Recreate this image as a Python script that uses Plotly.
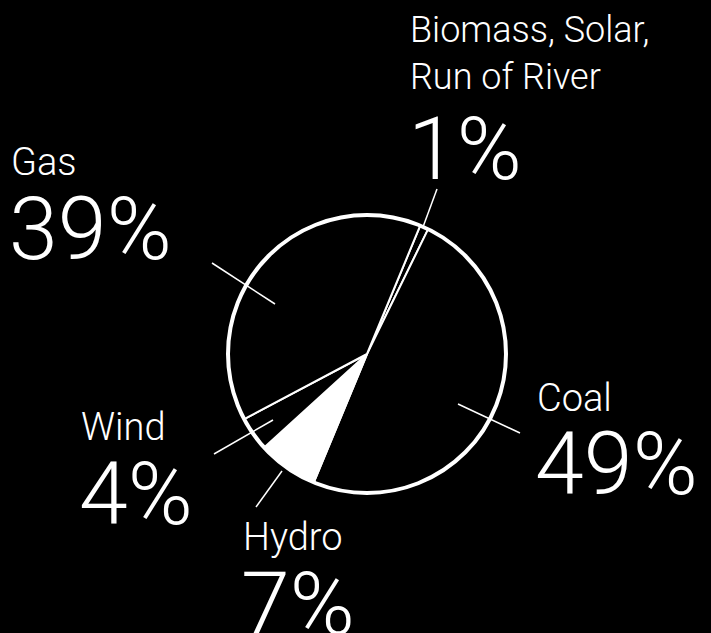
import plotly.graph_objects as go

# ---- data ----
labels = ["Biomass, Solar,<br>Run of River", "Coal", "Hydro", "Wind", "Gas"]
values = [1, 49, 7, 4, 39]
pct_text = [f"{v}%" for v in values]
slice_colors = ["black", "black", "white", "black", "black"]

W, H = 711, 633
FONT = "Roboto Light, Roboto, sans-serif"

def px(x, y):
    return x / W, 1 - y / H

# pie geometry (pixels)
cx, cy, r = 367, 354, 139
dom_x = [(cx - r) / W, (cx + r) / W]
dom_y = [1 - (cy + r) / H, 1 - (cy - r) / H]

fig = go.Figure(go.Pie(
    labels=labels, values=values, sort=False, direction="clockwise",
    rotation=22.5, textinfo="none", hoverinfo="none",
    marker=dict(colors=slice_colors, line=dict(color="white", width=2)),
    domain=dict(x=dom_x, y=dom_y), showlegend=False,
))

# label layout: (left x, name baseline(s), pct baseline, name size)
label_pos = {
    "Biomass, Solar,<br>Run of River": (408, [43, 88], 175, 36),
    "Coal": (535, [411], 490, 38),
    "Hydro": (241, [550], 630, 38),
    "Wind": (79, [440], 520, 38),
    "Gas": (9, [175], 255, 38),
}
PCT_SIZE = 88

annotations = []
for lab, pct in zip(labels, pct_text):
    x0, nb, pb, ns = label_pos[lab]
    ymid = sum(nb) / len(nb) - 0.34 * ns
    ax, ay = px(x0, ymid)
    annotations.append(dict(x=ax, y=ay, xref="paper", yref="paper", text=lab,
                            showarrow=False, xanchor="left", yanchor="middle", align="left",
                            font=dict(family=FONT, size=ns, color="white", weight=300)))
    ymid = pb - 0.30 * PCT_SIZE
    ax, ay = px(x0 - 2, ymid)
    annotations.append(dict(x=ax, y=ay, xref="paper", yref="paper", text=pct,
                            showarrow=False, xanchor="left", yanchor="middle",
                            font=dict(family=FONT, size=PCT_SIZE, color="white", weight=300)))

# leader lines (pixels)
leaders = [
    ((437, 189), (423, 227)),
    ((212, 263), (275, 304)),
    ((458, 404), (520, 433)),
    ((214, 454), (273, 420)),
    ((256, 507), (282, 471)),
]
shapes = []
for (x0, y0), (x1, y1) in leaders:
    a, b = px(x0, y0)
    c, d = px(x1, y1)
    shapes.append(dict(type="line", xref="paper", yref="paper", x0=a, y0=b, x1=c, y1=d,
                       line=dict(color="white", width=1.5)))
# thick outer ring
shapes.append(dict(type="circle", xref="paper", yref="paper",
                   x0=dom_x[0], x1=dom_x[1], y0=dom_y[0], y1=dom_y[1],
                   line=dict(color="white", width=4)))

fig.update_layout(
    width=W, height=H, margin=dict(l=0, r=0, t=0, b=0),
    paper_bgcolor="black", plot_bgcolor="black",
    annotations=annotations, shapes=shapes,
)
fig.write_html("out.html", config={"displayModeBar": False, "staticPlot": True},
               post_script="document.body.style.margin='0';document.body.style.background='black';document.body.style.overflow='hidden';")
